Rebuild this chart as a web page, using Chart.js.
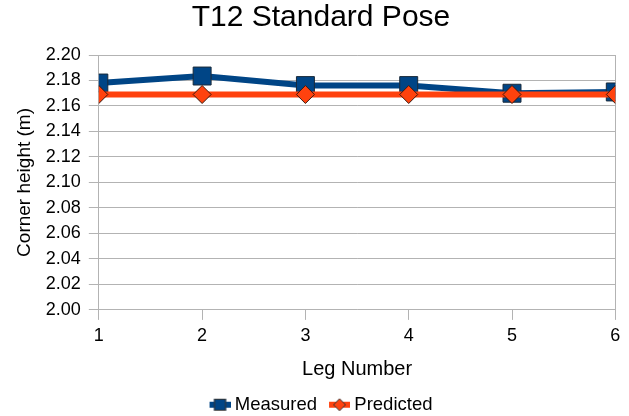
<!DOCTYPE html>
<html>
<head>
<meta charset="utf-8">
<script src="https://cdn.jsdelivr.net/npm/chart.js@4/dist/chart.umd.min.js"></script>
<style>
  html, body { margin: 0; padding: 0; background: #fff; }
  #wrap { width: 629px; height: 416px; }
</style>
</head>
<body>
<div id="wrap"><canvas id="pose"></canvas></div>
<script>
var legs = [1, 2, 3, 4, 5, 6];
var measured = [2.178, 2.1835, 2.176, 2.176, 2.170, 2.171];
var predicted = [2.169, 2.169, 2.169, 2.169, 2.169, 2.169];
var yTicks = [2.00, 2.02, 2.04, 2.06, 2.08, 2.10, 2.12, 2.14, 2.16, 2.18, 2.20];

var FONT = "'Liberation Sans', Arial, sans-serif";

// legend swatch: short line with the marker on it
function swatch(color, shape) {
  var c = document.createElement('canvas');
  c.width = 26; c.height = 14;
  var g = c.getContext('2d');
  g.strokeStyle = color; g.lineWidth = 6;
  g.beginPath(); g.moveTo(5, 7); g.lineTo(26, 7); g.stroke();
  g.fillStyle = color; g.strokeStyle = '#333'; g.lineWidth = 1;
  if (shape == 'rect') {
    g.fillRect(9.5, 1, 12, 12); g.strokeRect(10, 1.5, 11, 11);
  } else {
    g.beginPath(); g.moveTo(15.5, 1); g.lineTo(21.5, 7); g.lineTo(15.5, 13); g.lineTo(9.5, 7); g.closePath();
    g.fill(); g.stroke();
  }
  return c;
}

function pts(arr) {
  return legs.map(function (l, i) { return { x: l, y: arr[i] }; });
}

var ctx = document.getElementById('pose').getContext('2d');
var pose_chart = new Chart(ctx, {
  type: 'line',
  data: {
    datasets: [{
      label: 'Measured',
      data: pts(measured),
      order: 1,
      borderColor: '#004586',
      backgroundColor: '#004586',
      borderWidth: 6,
      pointStyle: 'rect',
      pointRadius: 12.7,
      pointBorderColor: '#1a2a3a',
      pointBorderWidth: 1,
      tension: 0
    }, {
      label: 'Predicted',
      data: pts(predicted),
      order: 0, // drawn over the measured line
      borderColor: '#ff420e',
      backgroundColor: '#ff420e',
      borderWidth: 6,
      pointStyle: 'rectRot',
      pointRadius: 9,
      pointBorderColor: '#3a1a10',
      pointBorderWidth: 1,
      tension: 0
    }]
  },
  options: {
    responsive: true,
    maintainAspectRatio: false,
    animation: false,
    layout: { padding: { left: 13, right: 0, top: 0, bottom: -8 } },
    plugins: {
      title: {
        display: true,
        text: 'T12 Standard Pose',
        color: '#000',
        font: { family: FONT, size: 30, weight: 'normal' },
        padding: { top: 0, bottom: 19 }
      },
      legend: {
        position: 'bottom',
        labels: {
          color: '#000',
          font: { family: FONT, size: 18.5 },
          usePointStyle: true,
          pointStyleWidth: 16,
          boxHeight: 14,
          padding: 12,
          generateLabels: function (chart) {
            return chart.data.datasets.map(function (ds, i) {
              return {
                text: ds.label,
                pointStyle: swatch(ds.borderColor, ds.pointStyle),
                fillStyle: ds.borderColor,
                strokeStyle: ds.borderColor,
                lineWidth: 0,
                datasetIndex: i,
                fontColor: '#000'
              };
            });
          }
        }
      },
      tooltip: { enabled: false }
    },
    scales: {
      x: {
        type: 'linear',
        min: 1,
        max: 6,
        ticks: {
          stepSize: 1,
          color: '#000',
          font: { family: FONT, size: 18 },
          padding: 5
        },
        grid: {
          color: function (c) {
            return (c.tick && (c.tick.value == 1 || c.tick.value == 6)) ? '#b3b3b3' : 'rgba(0,0,0,0)';
          },
          tickColor: '#b3b3b3',
          tickLength: 10
        },
        border: { display: false },
        title: {
          display: true,
          text: 'Leg Number',
          color: '#000',
          font: { family: FONT, size: 20 },
          padding: { top: 6, bottom: 2 }
        }
      },
      y: {
        min: 2.00,
        max: 2.20,
        afterBuildTicks: function (axis) {
          axis.ticks = yTicks.map(function (v) { return { value: v }; });
        },
        ticks: {
          autoSkip: false,
          color: '#000',
          font: { family: FONT, size: 18 },
          padding: 8,
          callback: function (v) { return Number(v).toFixed(2); }
        },
        grid: {
          color: '#b3b3b3',
          tickColor: '#b3b3b3',
          tickLength: 10
        },
        border: { display: false },
        title: {
          display: true,
          text: 'Corner height (m)',
          color: '#000',
          font: { family: FONT, size: 19 },
          padding: { top: 0, bottom: 2 }
        }
      },
      // empty right axis, only keeps a margin on the right of the plot
      yRight: {
        position: 'right',
        display: true,
        ticks: { display: false },
        grid: { display: false },
        border: { display: false },
        afterFit: function (axis) { axis.width = 13; }
      }
    }
  }
});
</script>
</body>
</html>
